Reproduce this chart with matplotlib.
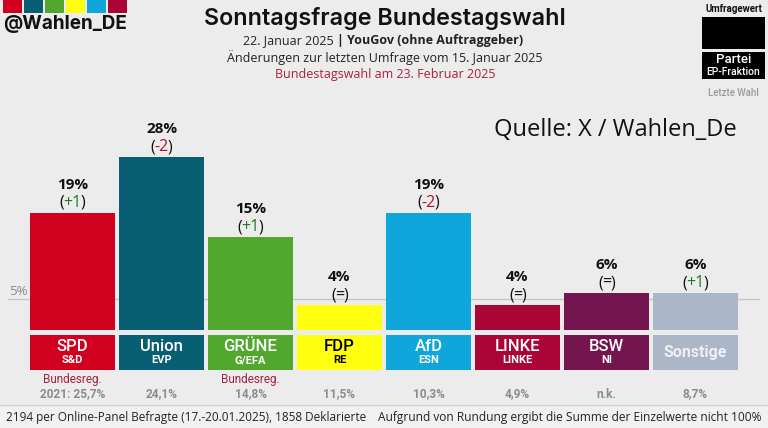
import matplotlib
matplotlib.use("Agg")
import matplotlib.pyplot as plt
from matplotlib.patches import Rectangle

parties = ["SPD", "Union", "GRÜNE", "FDP", "AfD", "LINKE", "BSW", "Sonstige"]
ep_groups = ["S&D", "EVP", "G/EFA", "RE", "ESN", "LINKE", "NI", ""]
values = [19, 28, 15, 4, 19, 4, 6, 6]
changes = ["+1", "-2", "+1", "=", "-2", "=", "=", "+1"]
last_election = ["2021: 25,7%", "24,1%", "14,8%", "11,5%", "10,3%", "4,9%", "n.k.", "8,7%"]
government = ["Bundesreg.", "", "Bundesreg.", "", "", "", "", ""]
colors = ["#d2001f", "#085e73", "#52a72f", "#ffff0f", "#0fa6db", "#ab0538", "#74154f", "#abb6c8"]
name_colors = ["white", "white", "white", "black", "white", "white", "white", "#eef0f4"]
change_colors = {"+": "#1f7a2e", "-": "#b0122e", "=": "#111111"}

BG = "#ececec"
RED = "#a8213f"
GREY = "#8c8c8c"

W, H = 768, 428
fig = plt.figure(figsize=(W / 100, H / 100), dpi=100, facecolor=BG)

# overlay in image pixels for the layout stuff
ov = fig.add_axes([0, 0, 1, 1], zorder=3)
ov.set_xlim(0, W)
ov.set_ylim(H, 0)
ov.axis("off")
ov.patch.set_alpha(0)

# bars: x in category index, y in percent
PITCH, BAR_W, X0, BASE, PX_PER = 89.0, 85.0, 72.5, 330.0, 6.18
ax = fig.add_axes([0, 0, 1, 1], zorder=2)
ax.set_xlim(-X0 / PITCH, (W - X0) / PITCH)
ax.set_ylim((BASE - H) / PX_PER, BASE / PX_PER)
ax.axis("off")
ax.patch.set_alpha(0)
xs = list(range(len(parties)))
ax.plot([(8 - X0) / PITCH, (759 - X0) / PITCH], [5, 5], color="#c6c6c6", lw=1, zorder=1)
ax.bar(xs, values, width=BAR_W / PITCH, color=colors, zorder=2)
ax.text((18 - X0) / PITCH, 5.25, "5%", ha="center", va="bottom", color=GREY, fontsize=9.5, family="Open Sans")

renderer = fig.canvas.get_renderer()

for i, party in enumerate(parties):
    cx = X0 + PITCH * i
    ax.text(i, values[i] + 4.5, f"{values[i]}%", ha="center", va="center", fontsize=11,
            fontweight="bold", family="Open Sans", color="#111111")
    # only the number is coloured, brackets stay black
    c = changes[i]
    chg_y = values[i] + 1.6
    mid = ax.text(i, chg_y, c, ha="center", va="center", fontsize=11.5, family="Open Sans",
                  color=change_colors[c[0]])
    half = (mid.get_window_extent(renderer).width / 2 - 1) / PITCH
    ax.text(i - half, chg_y, "(", ha="right", va="center", fontsize=11.5, family="Open Sans", color="#111111")
    ax.text(i + half, chg_y, ")", ha="left", va="center", fontsize=11.5, family="Open Sans", color="#111111")

    ov.add_patch(Rectangle((cx - BAR_W / 2, 335), BAR_W, 34.5, color=colors[i], lw=0))
    if ep_groups[i]:
        ov.text(cx, 346.5, party, ha="center", va="center", color=name_colors[i], fontsize=12,
                fontweight="medium", family="Roboto")
        ov.text(cx, 360, ep_groups[i], ha="center", va="center", color=name_colors[i], fontsize=8,
                fontweight="bold", family="Roboto")
    else:
        ov.text(cx, 352, party, ha="center", va="center", color=name_colors[i], fontsize=11.5,
                fontweight="bold", family="Roboto")
    if government[i]:
        ov.text(cx, 379, government[i], ha="center", va="center", color=RED, fontsize=8.5, family="Roboto")
    ov.text(cx, 394, last_election[i], ha="center", va="center", color=GREY, fontsize=8.6,
            fontweight="bold", family="Roboto")

# logo strip
for i, c in enumerate(colors[:6]):
    ov.add_patch(Rectangle((2.5 + i * 21, 0), 19.5, 12.5, color=c, lw=0))
ov.text(3, 24, "@Wahlen_DE", ha="left", va="center", fontsize=13.6, fontweight="bold", family="Inter", color="#111111")

# titles
ov.text(384.5, 18, "Sonntagsfrage Bundestagswahl", ha="center", va="center", fontsize=16.8, fontweight="semibold",
        family="Inter", color="#111111")
ov.text(243, 40.5, "22. Januar 2025", ha="left", va="center", fontsize=9, family="Open Sans", color="#222222")
ov.text(339.5, 40.5, "|", ha="center", va="center", fontsize=9, fontweight="bold", family="Open Sans", color="#222222")
ov.text(347, 40.5, "YouGov (ohne Auftraggeber)", ha="left", va="center", fontsize=9, fontweight="bold",
        family="Open Sans", color="#222222")
ov.text(385, 57.5, "Änderungen zur letzten Umfrage vom 15. Januar 2025", ha="center", va="center", fontsize=9,
        family="Open Sans", color="#222222")
ov.text(385, 74.5, "Bundestagswahl am 23. Februar 2025", ha="center", va="center", fontsize=9,
        family="Open Sans", color=RED)
ov.text(494, 130, "Quelle: X / Wahlen_De", ha="left", va="center", fontsize=17, family="Open Sans", color="#111111")

# legend box
ov.text(733.5, 8.5, "Umfragewert", ha="center", va="center", fontsize=7, fontweight="bold", family="Roboto", color="#111111")
ov.add_patch(Rectangle((702, 17), 63, 32, color="black", lw=0))
ov.add_patch(Rectangle((702, 52), 63, 27, color="black", lw=0))
ov.text(733.5, 59.5, "Partei", ha="center", va="center", fontsize=9.5, fontweight="medium", family="Roboto", color="white")
ov.text(733.5, 72, "EP-Fraktion", ha="center", va="center", fontsize=7.5, fontweight="medium", family="Roboto", color="white")
ov.text(733.5, 93, "Letzte Wahl", ha="center", va="center", fontsize=6.9, fontweight="medium", family="Roboto", color="#9a9a9a")

# footer
ov.add_patch(Rectangle((0, 405), W, 23, color="#f1f1f1", lw=0))
ov.plot([0, W], [405, 405], color="#cfcfcf", lw=1)
ov.text(6, 417, "2194 per Online-Panel Befragte (17.-20.01.2025), 1858 Deklarierte", ha="left", va="center",
        fontsize=8.48, family="Open Sans", color="#222222")
ov.text(762, 417, "Aufgrund von Rundung ergibt die Summe der Einzelwerte nicht 100%", ha="right", va="center",
        fontsize=8.6, family="Open Sans", color="#222222")

fig.savefig("out.png", dpi=100, facecolor=BG)
